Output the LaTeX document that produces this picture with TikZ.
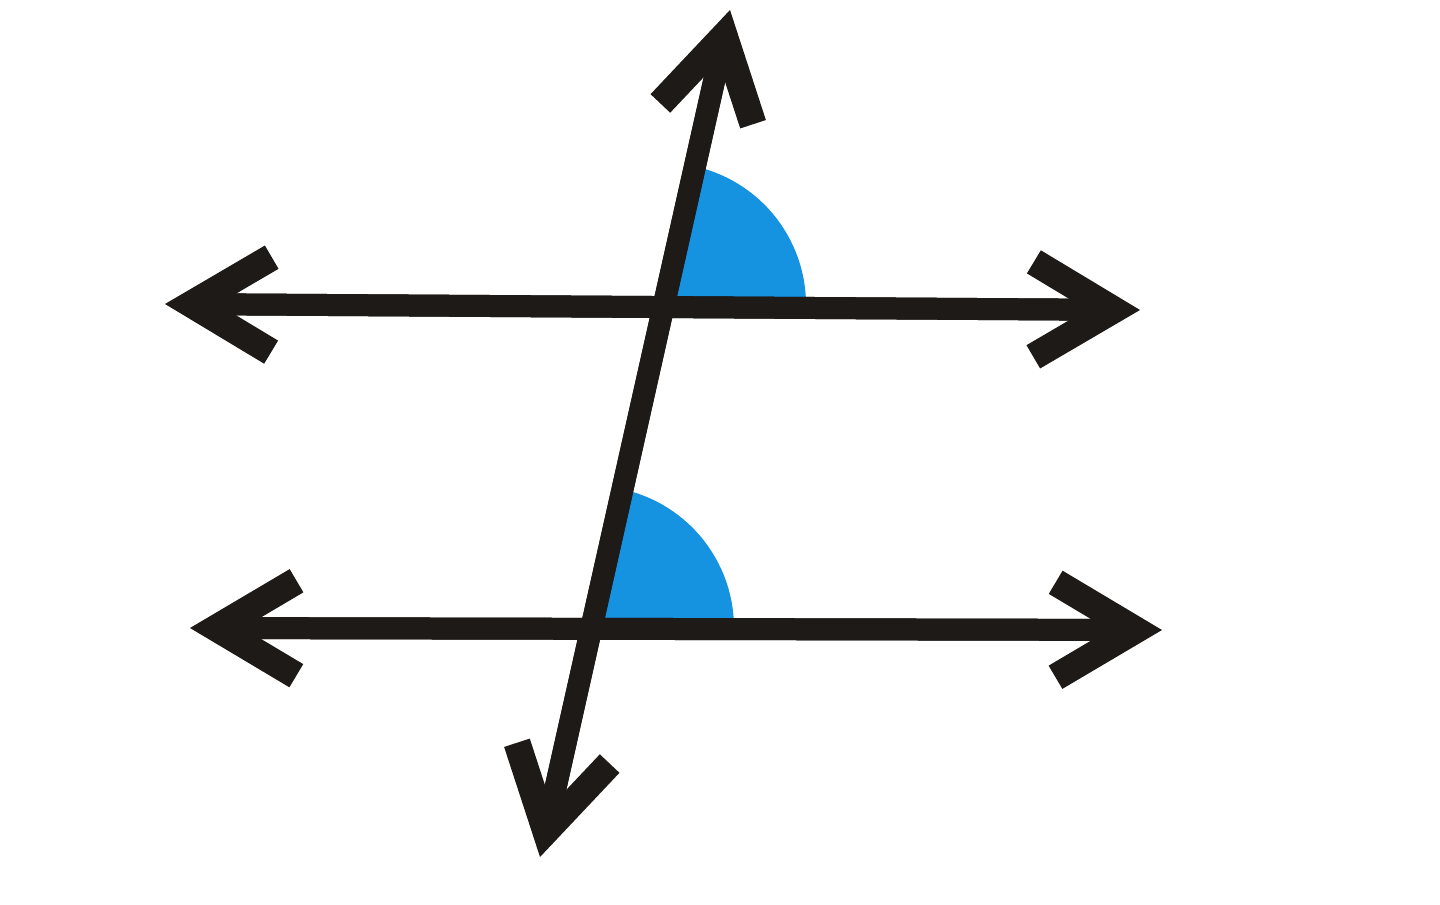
\documentclass[tikz,border=0pt]{standalone}
\usetikzlibrary{arrows.meta}
\definecolor{inkblack}{HTML}{1E1A17}
\definecolor{angblue}{HTML}{1592E0}
\tikzset{
  parline/.style={draw=inkblack, line width=0.44cm,
    {Straight Barb[length=1.6cm,width=1.9cm,line width=0.54cm]}-{Straight Barb[length=1.6cm,width=1.9cm,line width=0.54cm]}},
  shaft/.style={draw=inkblack, line width=0.44cm, shorten <=0.6cm, shorten >=0.6cm},
  angfill/.style={fill=angblue}
}
\begin{document}
\begin{tikzpicture}[x=0.02cm, y=0.02cm]
  \useasboundingbox (0,0) rectangle (1440,904);
  % end points of the three lines
  \coordinate (topL) at (165,600);
  \coordinate (topR) at (1140,594);
  \coordinate (botL) at (190,276);
  \coordinate (botR) at (1162,274);
  \coordinate (transT) at (730,894);
  \coordinate (transB) at (540,47);
  % crossing points
  \coordinate (crossT) at (664,599);
  \coordinate (crossB) at (592,276);

  % corresponding angles
  \fill[angfill] (crossT) -- ++(0:142) arc[start angle=0, end angle=77.4, radius=142] -- cycle;
  \fill[angfill] (crossB) -- ++(0:142) arc[start angle=0, end angle=77.4, radius=142] -- cycle;

  % parallel lines and transversal
  \draw[parline] (topL) -- (topR);
  \draw[parline] (botL) -- (botR);
  \draw[parline] (transB) -- (transT);
  % shafts run on into the barbs
  \draw[shaft] (topL) -- (topR);
  \draw[shaft] (botL) -- (botR);
  \draw[shaft] (transB) -- (transT);
\end{tikzpicture}
\end{document}
